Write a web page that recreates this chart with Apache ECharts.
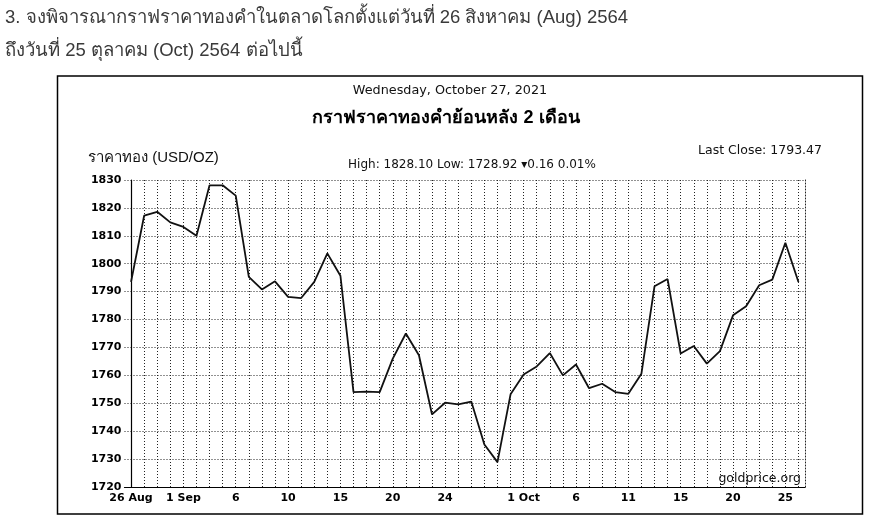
<!DOCTYPE html>
<html><head><meta charset="utf-8">
<script src="https://cdn.jsdelivr.net/npm/echarts@6/dist/echarts.min.js"></script>
<style>html,body{margin:0;padding:0;background:#fff}#c{width:886px;height:526px}</style>
</head><body><div id="c"></div>
<script>
// Daily gold price (USD/OZ), 26 Aug – 25 Oct 2021
const prices = [1793.5,1817.2,1818.6,1814.8,1813.2,1810.0,1828.1,1828.1,1824.4,1795.3,
  1790.8,1793.7,1788.1,1787.7,1793.5,1803.7,1795.7,1754.0,1754.2,1754.0,
  1766.0,1775.0,1767.2,1746.0,1750.2,1749.6,1750.6,1735.2,1728.9,1753.2,
  1760.3,1763.2,1768.0,1760.0,1763.9,1755.4,1757.0,1754.0,1753.4,1760.6,
  1791.9,1794.5,1767.8,1770.5,1764.2,1768.7,1781.5,1784.8,1792.3,1794.3,
  1807.5,1793.47];
const tickIndex = [0,4,8,12,16,20,24,30,34,38,42,46,50];
const tickLabels = ['26 Aug','1 Sep','6','10','15','20','24','1 Oct','6','11','15','20','25'];
const yMin = 1720, yMax = 1830, yStep = 10;

const gridIdx = prices.map((_, i) => i);
const font = '"DejaVu Sans", Verdana, sans-serif';
const chart = echarts.init(document.getElementById('c'), null, {renderer: 'canvas'});
chart.setOption({
  animation: false,
  backgroundColor: '#fff',
  grid: {left: 124.5, right: 81, top: 180, bottom: 39, containLabel: false},
  xAxis: {
    type: 'value', min: -0.5, max: prices.length - 0.5,
    axisLine: {show: true, onZero: false, lineStyle: {color: '#000', width: 1.2}},
    axisTick: {show: false, customValues: gridIdx},
    axisLabel: {
      customValues: tickIndex,
      formatter: v => tickLabels[tickIndex.indexOf(v)] || '',
      color: '#000', fontFamily: font, fontWeight: 'bold', fontSize: 11, margin: 6
    },
    splitLine: {show: true, lineStyle: {color: '#222', type: [1, 2], width: 1}}
  },
  yAxis: [{
    type: 'value', min: yMin, max: yMax, interval: yStep,
    axisLine: {show: true, lineStyle: {color: '#000', width: 1.2}},
    axisTick: {show: false},
    axisLabel: {color: '#000', fontFamily: font, fontWeight: 'bold', fontSize: 11, margin: 3,
      formatter: v => String(v)},
    splitLine: {show: true, lineStyle: {color: '#222', type: [1, 2], width: 1}}
  }, {
    type: 'value', min: yMin, max: yMax, interval: yStep, position: 'right',
    axisLine: {show: true, lineStyle: {color: '#222', type: [1, 2], width: 1}},
    axisTick: {show: false}, axisLabel: {show: false}, splitLine: {show: false}
  }],
  series: [{
    type: 'line', data: prices.map((v, i) => [i, v]),
    showSymbol: false, symbol: 'none',
    lineStyle: {color: '#111', width: 1.8}
  }],
  graphic: [
    {type: 'rect', shape: {x: 57.5, y: 76, width: 805, height: 438},
      style: {fill: 'none', stroke: '#000', lineWidth: 1.5}},
    {type: 'text', left: 5, top: 8,
      style: {text: '3. จงพิจารณากราฟราคาทองคำในตลาดโลกตั้งแต่วันที่ 26 สิงหาคม (Aug) 2564',
        font: '18.5px sans-serif', fill: '#3a3a3a'}},
    {type: 'text', left: 5, top: 41,
      style: {text: 'ถึงวันที่ 25 ตุลาคม (Oct) 2564 ต่อไปนี้', font: '18.5px sans-serif', fill: '#3a3a3a'}},
    {type: 'text', x: 450, y: 91,
      style: {text: 'Wednesday, October 27, 2021', font: '12.8px ' + font, fill: '#111',
        align: 'center', verticalAlign: 'middle'}},
    {type: 'text', x: 446, y: 118,
      style: {text: 'กราฟราคาทองคำย้อนหลัง 2 เดือน', font: 'bold 18px sans-serif', fill: '#000',
        align: 'center', verticalAlign: 'middle'}},
    {type: 'text', x: 88, y: 158,
      style: {text: 'ราคาทอง (USD/OZ)', font: '15px sans-serif', fill: '#111',
        align: 'left', verticalAlign: 'middle'}},
    {type: 'text', x: 472, y: 165,
      style: {text: 'High: 1828.10 Low: 1728.92 \u25BE0.16 0.01%', font: '12px ' + font, fill: '#111',
        align: 'center', verticalAlign: 'middle'}},
    {type: 'text', x: 822, y: 151,
      style: {text: 'Last Close: 1793.47', font: '12.5px ' + font, fill: '#111',
        align: 'right', verticalAlign: 'middle'}},
    {type: 'text', x: 801, y: 479,
      style: {text: 'goldprice.org', font: '12.5px ' + font, fill: '#111',
        align: 'right', verticalAlign: 'middle'}}
  ]
});
</script></body></html>
